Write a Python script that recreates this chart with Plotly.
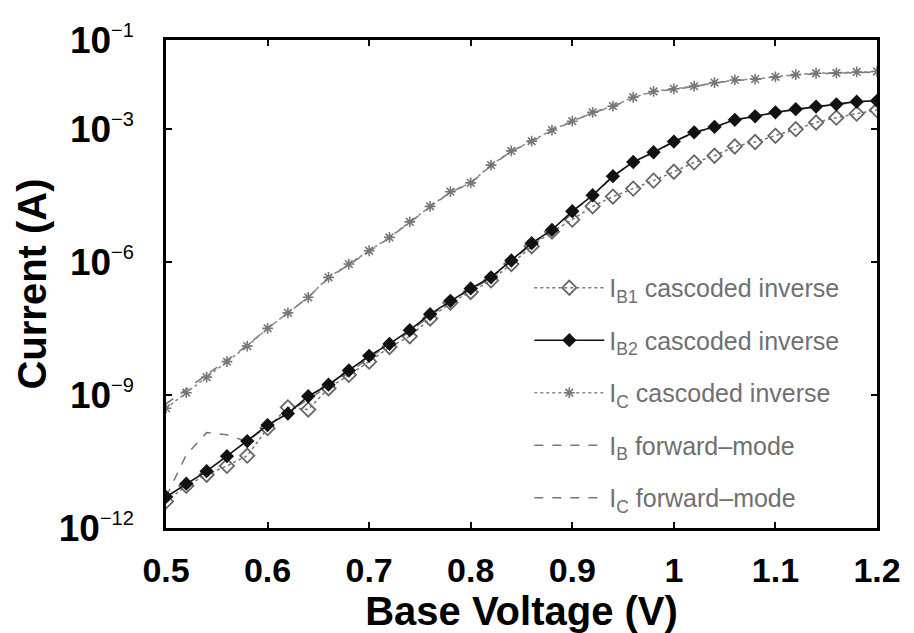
import plotly.graph_objects as go

# Base voltage grid (V)
V = [0.50, 0.52, 0.54, 0.56, 0.58, 0.60, 0.62, 0.64, 0.66, 0.68, 0.70, 0.72,
     0.74, 0.76, 0.78, 0.80, 0.82, 0.84, 0.86, 0.88, 0.90, 0.92, 0.94, 0.96,
     0.98, 1.00, 1.02, 1.04, 1.06, 1.08, 1.10, 1.12, 1.14, 1.16, 1.18, 1.20]

# log10 of current (A)
IB1_cas_log = [-11.4, -11.05, -10.8, -10.6, -10.37, -9.75, -9.28, -9.33, -8.85, -8.55,
               -8.25, -7.92, -7.68, -7.28, -6.92, -6.68, -6.42, -6.05, -5.65, -5.32,
               -5.05, -4.75, -4.53, -4.35, -4.17, -3.97, -3.76, -3.61, -3.40, -3.30,
               -3.16, -3.01, -2.86, -2.75, -2.66, -2.58]
IB2_cas_log = [-11.3, -11.0, -10.72, -10.38, -10.04, -9.68, -9.42, -9.03, -8.77, -8.45,
               -8.12, -7.85, -7.54, -7.18, -6.88, -6.60, -6.35, -5.97, -5.58, -5.28,
               -4.86, -4.50, -4.07, -3.75, -3.53, -3.29, -3.08, -2.96, -2.80, -2.72,
               -2.63, -2.56, -2.50, -2.45, -2.39, -2.37]
IC_cas_log = [-9.3, -8.95, -8.6, -8.25, -7.9, -7.5, -7.15, -6.8, -6.35, -6.05,
              -5.75, -5.45, -5.1, -4.75, -4.42, -4.22, -3.82, -3.5, -3.28, -3.03,
              -2.83, -2.63, -2.49, -2.29, -2.16, -2.10, -2.04, -1.96, -1.90, -1.88,
              -1.83, -1.78, -1.75, -1.74, -1.72, -1.71]
IB_fwd_log = [-11.3, -10.35, -9.85, -9.9, -10.05, -9.7, -9.4, -9.1, -8.8, -8.5,
              -8.16, -7.88, -7.57, -7.22, -6.9, -6.62, -6.37, -5.99, -5.6, -5.29,
              -4.87, -4.51, -4.08, -3.76, -3.54, -3.30, -3.09, -2.97, -2.81, -2.73,
              -2.64, -2.57, -2.51, -2.46, -2.40, -2.38]
IC_fwd_log = [-9.2, -8.88, -8.55, -8.22, -7.88, -7.5, -7.15, -6.8, -6.37, -6.06,
              -5.76, -5.46, -5.11, -4.76, -4.43, -4.23, -3.83, -3.51, -3.29, -3.04,
              -2.84, -2.64, -2.50, -2.30, -2.17, -2.11, -2.05, -1.97, -1.91, -1.89,
              -1.84, -1.79, -1.76, -1.75, -1.73, -1.72]

x_ticks = [0.5, 0.6, 0.7, 0.8, 0.9, 1.0, 1.1, 1.2]
x_ticklabels = ["0.5", "0.6", "0.7", "0.8", "0.9", "1", "1.1", "1.2"]
y_tick_exps = [-12, -9, -6, -3, -1]


def to_amps(logs):
    return [10 ** v for v in logs]


fig = go.Figure()

# forward-mode (drawn first, underneath)
fig.add_trace(go.Scatter(
    x=V, y=to_amps(IB_fwd_log), mode="lines",
    name="I<sub>B</sub> forward\u2013mode", legendgroup="g4", legendrank=4,
    line=dict(color="#777777", width=1.5, dash="dash")))
fig.add_trace(go.Scatter(
    x=V, y=to_amps(IC_fwd_log), mode="lines",
    name="I<sub>C</sub> forward\u2013mode", legendgroup="g5", legendrank=5,
    line=dict(color="#777777", width=1.5, dash="dash")))

fig.add_trace(go.Scatter(
    x=V, y=to_amps(IC_cas_log), mode="lines+markers",
    name="I<sub>C</sub> cascoded inverse", legendgroup="g3", legendrank=3,
    line=dict(color="#888888", width=1.5, dash="dot"),
    marker=dict(symbol="asterisk-open", size=9, color="#777777",
                line=dict(color="#777777", width=1.6))))
fig.add_trace(go.Scatter(
    x=V, y=to_amps(IB1_cas_log), mode="lines+markers",
    name="I<sub>B1</sub> cascoded inverse", legendgroup="g1", legendrank=1,
    line=dict(color="#777777", width=1.5, dash="dot"),
    marker=dict(symbol="diamond-open", size=11, color="#666666",
                line=dict(color="#666666", width=1.8))))
fig.add_trace(go.Scatter(
    x=V, y=to_amps(IB2_cas_log), mode="lines+markers",
    name="I<sub>B2</sub> cascoded inverse", legendgroup="g2", legendrank=2,
    line=dict(color="#111111", width=1.6),
    marker=dict(symbol="diamond", size=11, color="#111111")))

y_ticktext = ["<b>10</b><sup><span style='font-size:20px'>\u2212%d</span></sup>" % (-e)
              for e in y_tick_exps]

fig.update_layout(
    width=914, height=633,
    margin=dict(l=166, r=37, t=40, b=100),
    paper_bgcolor="white", plot_bgcolor="white",
    font=dict(family="Liberation Sans, Arial, sans-serif", color="black"),
    showlegend=True,
    legend=dict(
        x=0.511, y=0.539, xanchor="left", yanchor="top",
        bgcolor="rgba(0,0,0,0)", borderwidth=0,
        font=dict(size=25, color="#707070"),
        itemwidth=70, tracegroupgap=17,
        traceorder="grouped",
    ),
)

fig.update_xaxes(
    range=[0.5, 1.2], tickmode="array", tickvals=x_ticks,
    ticktext=["<b>%s</b>" % t for t in x_ticklabels],
    tickfont=dict(size=34, color="black"),
    ticks="inside", ticklen=6, tickwidth=1.5, tickcolor="black",
    showline=True, linecolor="black", linewidth=2.5, mirror="ticks",
    showgrid=False, zeroline=False, ticklabelstandoff=10,
    title=dict(text="<b>Base Voltage (V)</b>", font=dict(size=40, color="black"),
               standoff=4),
)
fig.update_yaxes(
    type="log", range=[-12, -1], tickmode="array",
    tickvals=[10 ** e for e in y_tick_exps], ticktext=y_ticktext,
    tickfont=dict(size=37, color="black"),
    ticks="inside", ticklen=6, tickwidth=1.5, tickcolor="black",
    showline=True, linecolor="black", linewidth=2.5, mirror="ticks",
    showgrid=False, zeroline=False, ticklabelstandoff=22,
    title=dict(text="<b>Current (A)</b>", font=dict(size=40, color="black"),
               standoff=0),
)

fig.write_html("out.html")
